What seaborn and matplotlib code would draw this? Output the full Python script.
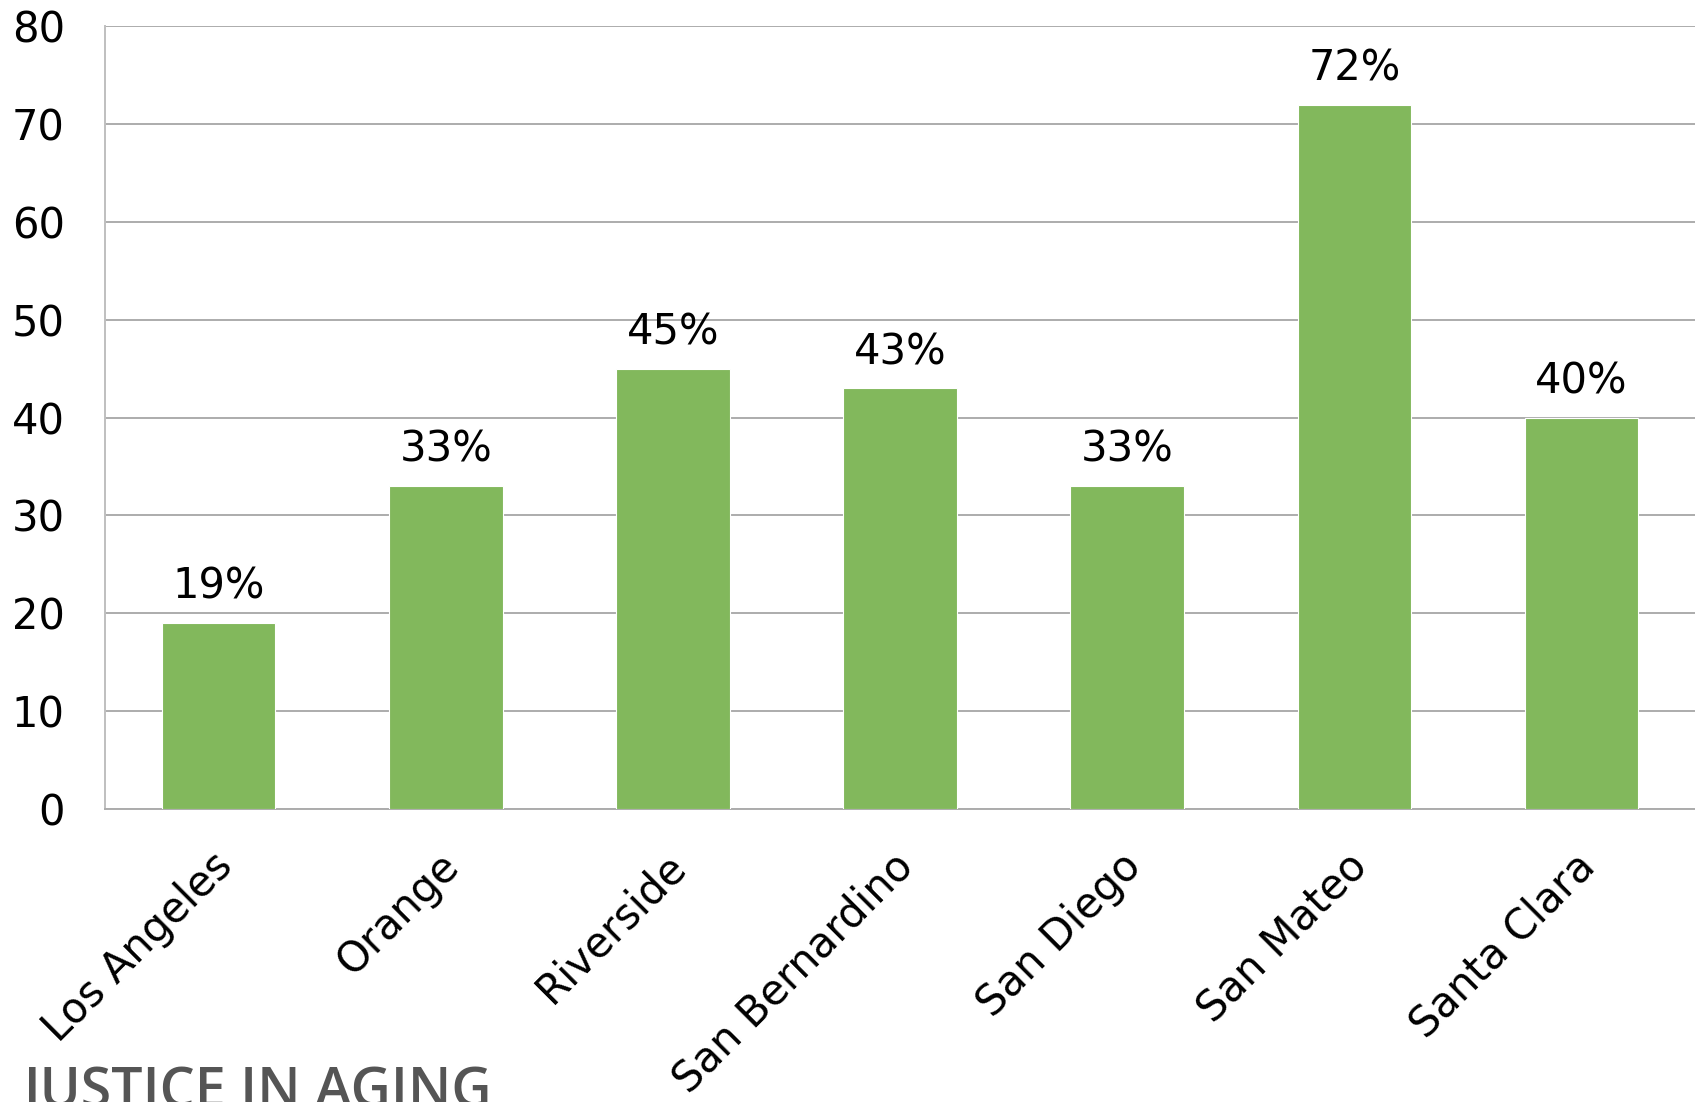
import matplotlib
matplotlib.use("Agg")
import matplotlib.pyplot as plt
import matplotlib.transforms as mtransforms
import seaborn as sns
import pandas as pd

counties = ["Los Angeles", "Orange", "Riverside", "San Bernardino",
            "San Diego", "San Mateo", "Santa Clara"]
percent = [19, 33, 45, 43, 33, 72, 40]
y_ticks = [0, 10, 20, 30, 40, 50, 60, 70, 80]

df = pd.DataFrame({"county": counties, "percent": percent})

sns.set_style("white")
plt.rcParams["font.family"] = ["DejaVu Sans"]
plt.rcParams["text.color"] = "black"
plt.rcParams["xtick.color"] = "black"
plt.rcParams["ytick.color"] = "black"

fig = plt.figure(figsize=(16.95, 11.02), dpi=100)
ax = fig.add_axes([0.062, 0.266, 0.938, 0.710])

sns.barplot(data=df, x="county", y="percent", color="#82B85C",
            saturation=1, width=0.5, edgecolor="white", linewidth=0.8,
            zorder=3, ax=ax)

ax.set_ylim(0, 80)
ax.set_xlim(-0.5, len(counties) - 0.5)
ax.set_yticks(y_ticks)
ax.set_yticklabels([str(t) for t in y_ticks], fontsize=30)
ax.yaxis.grid(True, color="#ACACAC", linewidth=1.4, zorder=0)
ax.set_xlabel("")
ax.set_ylabel("")

# category boundary ticks on x axis
ax.set_xticks([i - 0.5 for i in range(len(counties) + 1)], minor=True)
ax.tick_params(axis="x", which="minor", length=10, width=1.4, color="#BFBFBF")
ax.tick_params(axis="x", which="major", length=0, pad=26, labelcolor="black")
ax.tick_params(axis="y", length=11, width=1.4, color="#ACACAC", pad=18,
               labelcolor="black")
shift = mtransforms.ScaledTranslation(-8 / 100, 0, fig.dpi_scale_trans)
for lab in ax.get_xticklabels():
    lab.set_rotation(45)
    lab.set_ha("right")
    lab.set_va("top")
    lab.set_rotation_mode("anchor")
    lab.set_fontsize(30)
    lab.set_transform(lab.get_transform() + shift)

for s in ["top", "right"]:
    ax.spines[s].set_visible(False)
ax.spines["left"].set_color("#BFBFBF")
ax.spines["left"].set_linewidth(1.4)
ax.spines["bottom"].set_color("#ACACAC")
ax.spines["bottom"].set_linewidth(1.4)

ax.bar_label(ax.containers[0], labels=[f"{v}%" for v in percent],
             padding=11, fontsize=30, color="black")

fig.text(0.014, 1 - 1065 / 1102, "JUSTICE IN AGING", color="#555555",
         fontsize=40, fontweight="semibold", va="top", ha="left",
         family=["Open Sans", "DejaVu Sans"])

fig.savefig("out.png", dpi=100)
